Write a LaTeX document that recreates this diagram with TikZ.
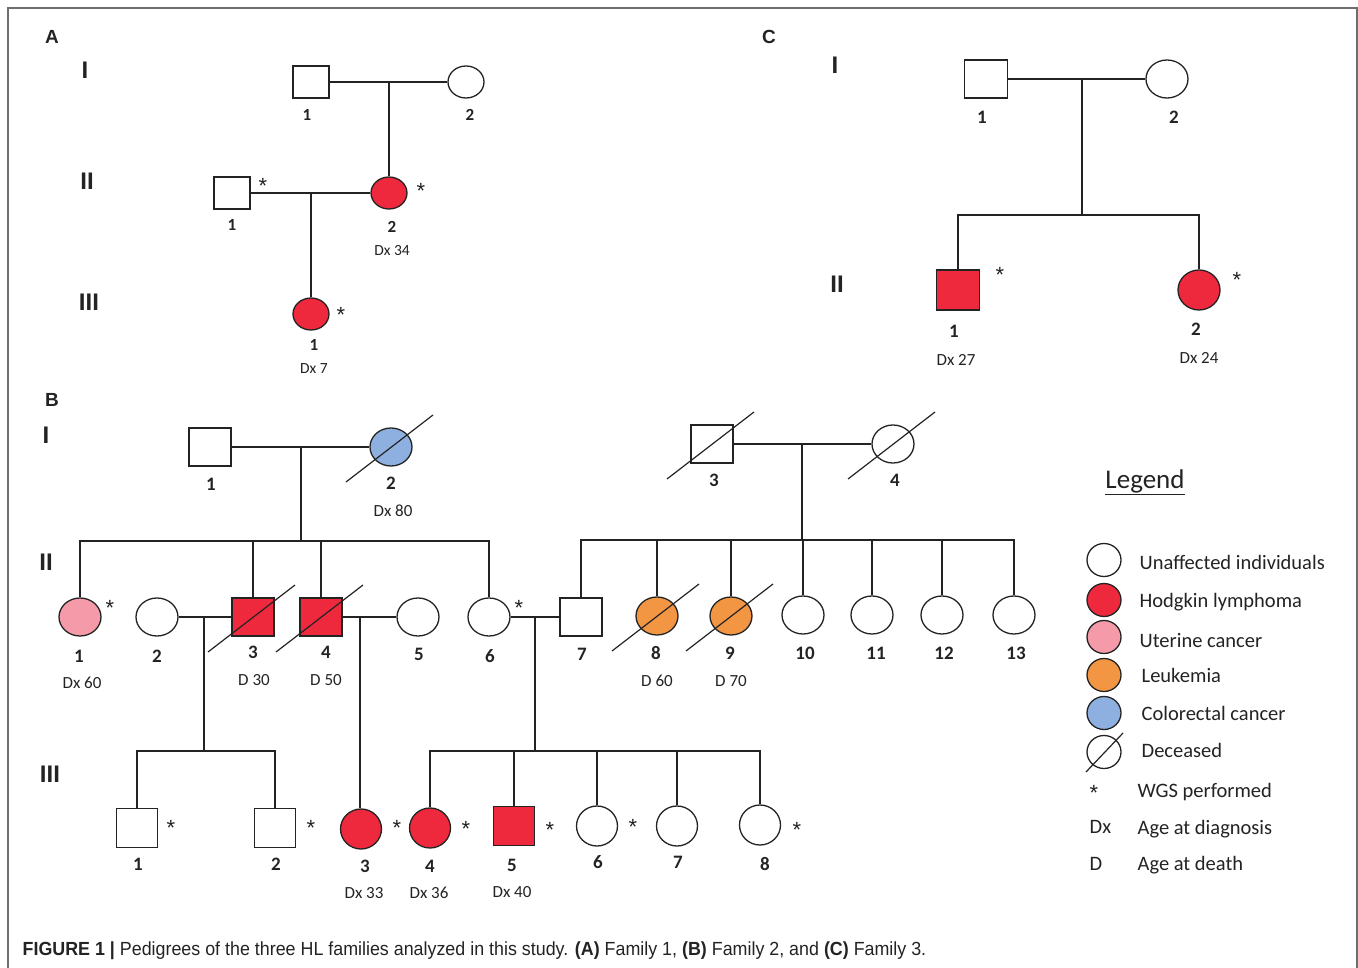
\documentclass[tikz,border=0pt]{standalone}
\usepackage{fontspec}
\setmainfont{Carlito}
\newfontfamily\capfont{Liberation Sans}
\newfontfamily\notefont[FakeStretch=0.94]{Liberation Sans}
\usetikzlibrary{shapes.geometric}

\definecolor{hlred}{RGB}{238,41,62}
\definecolor{uterpink}{RGB}{245,154,168}
\definecolor{leukorange}{RGB}{243,150,68}
\definecolor{crcblue}{RGB}{141,176,224}
\definecolor{framegray}{RGB}{110,110,110}
\definecolor{ink}{RGB}{35,35,35}

\begin{document}
\begin{tikzpicture}[
    x=1pt, y=-1pt,
    line width=1.3pt, color=ink,
    male/.style={draw, rectangle, minimum width=42pt, minimum height=38pt, inner sep=0pt},
    female/.style={draw, ellipse, minimum width=42pt, minimum height=38pt, inner sep=0pt},
    smallA/.style={minimum width=36pt, minimum height=32pt},
    hl/.style={fill=hlred},
    uter/.style={fill=uterpink},
    leuk/.style={fill=leukorange},
    crc/.style={fill=crcblue},
    num/.style={font=\fontsize{19}{21}\selectfont\bfseries},
    numA/.style={font=\fontsize{17}{19}\selectfont\bfseries},
    age/.style={font=\fontsize{17}{19}\selectfont},
    ageA/.style={font=\fontsize{15.5}{17}\selectfont},
    wgs/.style={font=\capfont\fontsize{22}{24}\selectfont},
    gen/.style={font=\capfont\fontsize{24}{26}\selectfont\bfseries},
    panel/.style={font=\capfont\fontsize{19}{21}\selectfont\bfseries},
    slash/.style={line width=1.2pt},
    key/.style={font=\fontsize{20.5}{23}\selectfont, anchor=base west, inner sep=0pt}
]
    \useasboundingbox (0,0) rectangle (1358,968);
    \draw[framegray, line width=1.4pt] (8,990) -- (8,8) -- (1357,8) -- (1357,990);

    % family 1
    \node[panel] (A-lab) at (52,37) {A};
    \node[gen] (A-gI) at (85,70) {I};
    \node[gen] (A-gII) at (87,181) {II};
    \node[gen] (A-gIII) at (89,302) {III};

    \node[male, smallA] (A-I-1) at (311,82) {};
    \node[female, smallA] (A-I-2) at (466,82) {};
    \node[male, smallA] (A-II-1) at (232,193) {};
    \node[female, smallA, hl] (A-II-2) at (389,193) {};
    \node[female, smallA, hl] (A-III-1) at (311,314) {};
    \coordinate (A-m1) at (389,82);
    \coordinate (A-m2) at (311,193);

    \draw (A-I-1) -- (A-I-2);
    \draw (A-m1) -- (A-II-2);
    \draw (A-II-1) -- (A-II-2);
    \draw (A-m2) -- (A-III-1);

    \node[numA] (A-I-1-n) at (307,115) {1};
    \node[numA] (A-I-2-n) at (470,115) {2};
    \node[numA] (A-II-1-n) at (232,225) {1};
    \node[numA] (A-II-2-n) at (392,227) {2};
    \node[ageA] (A-II-2-dx) at (392,251) {Dx 34};
    \node[numA] (A-III-1-n) at (314,345) {1};
    \node[ageA] (A-III-1-dx) at (314,369) {Dx 7};
    \node[wgs] (A-II-1-s) at (263,186) {*};
    \node[wgs] (A-II-2-s) at (421,191) {*};
    \node[wgs] (A-III-1-s) at (341,315) {*};

    % family 3
    \node[panel] (C-lab) at (769,37) {C};
    \node[gen] (C-gI) at (835,65) {I};
    \node[gen] (C-gII) at (837,284) {II};

    \node[male, minimum width=43pt] (C-I-1) at (986,79) {};
    \node[female] (C-I-2) at (1167,79) {};
    \node[male, minimum width=43pt, minimum height=40pt, hl] (C-II-1) at (958,290) {};
    \node[female, minimum height=40pt, hl] (C-II-2) at (1199,290) {};
    \coordinate (C-m1) at (1082,79);
    \coordinate (C-s1) at (1082,215);

    \draw (C-I-1) -- (C-I-2);
    \draw (C-m1) -- (C-s1);
    \draw (C-II-1) |- (C-s1) -| (C-II-2);

    \node[num] (C-I-1-n) at (982,117) {1};
    \node[num] (C-I-2-n) at (1174,117) {2};
    \node[num] (C-II-1-n) at (954,331) {1};
    \node[age] (C-II-1-dx) at (956,360) {Dx 27};
    \node[num] (C-II-2-n) at (1196,329) {2};
    \node[age] (C-II-2-dx) at (1199,358) {Dx 24};
    \node[wgs] (C-II-1-s) at (1000,275) {*};
    \node[wgs] (C-II-2-s) at (1237,280) {*};

    % family 2
    \node[panel] (B-lab) at (52,400) {B};
    \node[gen] (B-gI) at (46,435) {I};
    \node[gen] (B-gII) at (46,562) {II};
    \node[gen] (B-gIII) at (50,774) {III};

    \node[male] (B-I-1) at (210,447) {};
    \node[female, crc] (B-I-2) at (391,447) {};
    \node[male] (B-I-3) at (712,444) {};
    \node[female] (B-I-4) at (893,444) {};

    \node[female, uter] (B-II-1) at (80,617) {};
    \node[female] (B-II-2) at (157,617) {};
    \node[male, hl] (B-II-3) at (253,617) {};
    \node[male, hl] (B-II-4) at (321,617) {};
    \node[female] (B-II-5) at (418,617) {};
    \node[female] (B-II-6) at (489,617) {};
    \node[male] (B-II-7) at (581,617) {};
    \node[female, leuk] (B-II-8) at (657,616) {};
    \node[female, leuk] (B-II-9) at (731,616) {};
    \foreach \k/\x in {10/803, 11/872, 12/942, 13/1014}
        \node[female] (B-II-\k) at (\x,615) {};

    \node[male, minimum width=41pt, minimum height=39pt] (B-III-1) at (137,828) {};
    \node[male, minimum width=41pt, minimum height=39pt] (B-III-2) at (275,828) {};
    \node[female, minimum width=41pt, minimum height=40pt, hl] (B-III-3) at (361,829) {};
    \node[female, minimum width=41pt, minimum height=40pt, hl] (B-III-4) at (430,828) {};
    \node[male, minimum width=41pt, minimum height=39pt, hl] (B-III-5) at (514,826) {};
    \node[female, minimum width=41pt, minimum height=40pt] (B-III-6) at (597,826) {};
    \node[female, minimum width=41pt, minimum height=40pt] (B-III-7) at (677,826) {};
    \node[female, minimum width=41pt, minimum height=40pt] (B-III-8) at (760,825) {};

    \coordinate (B-m1) at (301,447);
    \coordinate (B-s1) at (301,541);
    \coordinate (B-m2) at (802,444);
    \coordinate (B-s2) at (802,540);
    \coordinate (B-m3) at (204,617);
    \coordinate (B-s3) at (204,751);
    \coordinate (B-m4) at (360,617);
    \coordinate (B-m5) at (535,617);
    \coordinate (B-s4) at (535,751);

    \draw (B-I-1) -- (B-I-2);
    \draw (B-I-3) -- (B-I-4);
    \draw (B-II-2) -- (B-II-3);
    \draw (B-II-4) -- (B-II-5);
    \draw (B-II-6) -- (B-II-7);
    \draw (B-m1) -- (B-s1);
    \draw (B-m2) -- (B-s2);
    \draw (B-m3) -- (B-s3);
    \draw (B-m5) -- (B-s4);
    \draw (B-m4) -- (B-m4 |- B-III-3.north);

    \draw (B-II-1) |- (B-s1) -| (B-II-6);
    \foreach \k in {3,4}
        \draw (B-II-\k) -- (B-II-\k |- B-s1);
    \draw (B-II-7) |- (B-s2) -| (B-II-13);
    \foreach \k in {8,...,12}
        \draw (B-II-\k) -- (B-II-\k |- B-s2);
    \draw (B-III-1) |- (B-s3) -| (B-III-2);
    \draw (B-III-4) |- (B-s4) -| (B-III-8);
    \foreach \k in {5,6,7}
        \draw (B-III-\k) -- (B-III-\k |- B-s4);

    \foreach \n in {B-I-2, B-I-3, B-I-4, B-II-3, B-II-4, B-II-8, B-II-9}
        \draw[slash] (\n.center) ++(-45,35) -- ++(87,-67);

    \node[num] (B-I-1-n) at (211,484) {1};
    \node[num] (B-I-2-n) at (391,483) {2};
    \node[age] (B-I-2-dx) at (393,511) {Dx 80};
    \node[num] (B-I-3-n) at (714,480) {3};
    \node[num] (B-I-4-n) at (895,480) {4};

    \node[num] (B-II-1-n) at (79,656) {1};
    \node[age] (B-II-1-dx) at (82,683) {Dx 60};
    \node[num] (B-II-2-n) at (157,656) {2};
    \node[num] (B-II-3-n) at (253,652) {3};
    \node[age] (B-II-3-d) at (254,680) {D 30};
    \node[num] (B-II-4-n) at (326,652) {4};
    \node[age] (B-II-4-d) at (326,680) {D 50};
    \node[num] (B-II-5-n) at (419,654) {5};
    \node[num] (B-II-6-n) at (490,656) {6};
    \node[num] (B-II-7-n) at (582,654) {7};
    \node[num] (B-II-8-n) at (656,653) {8};
    \node[age] (B-II-8-d) at (657,681) {D 60};
    \node[num] (B-II-9-n) at (730,653) {9};
    \node[age] (B-II-9-d) at (731,681) {D 70};
    \foreach \k/\x in {10/805, 11/876, 12/944, 13/1016}
        \node[num] (B-II-\k-n) at (\x,653) {\k};
    \node[wgs] (B-II-1-s) at (110,608) {*};
    \node[wgs] (B-II-6-s) at (519,608) {*};

    \node[num] (B-III-1-n) at (138,864) {1};
    \node[num] (B-III-2-n) at (276,864) {2};
    \node[num] (B-III-3-n) at (365,866) {3};
    \node[age] (B-III-3-dx) at (364,893) {Dx 33};
    \node[num] (B-III-4-n) at (430,866) {4};
    \node[age] (B-III-4-dx) at (429,893) {Dx 36};
    \node[num] (B-III-5-n) at (512,865) {5};
    \node[age] (B-III-5-dx) at (512,892) {Dx 40};
    \node[num] (B-III-6-n) at (598,862) {6};
    \node[num] (B-III-7-n) at (678,862) {7};
    \node[num] (B-III-8-n) at (765,864) {8};
    \foreach \k/\x/\y in {1/171/828, 2/311/828, 3/397/828, 4/466/829, 5/550/830, 6/633/827, 8/797/830}
        \node[wgs] (B-III-\k-s) at (\x,\y) {*};

    % legend
    \node[font=\fontsize{27}{30}\selectfont] (leg-title) at (1145,482) {\underline{Legend}};
    \foreach \i/\y/\f in {1/560/white, 2/600/hlred, 3/637/uterpink, 4/675/leukorange, 5/713/crcblue, 6/752/white}
        \node[draw, ellipse, minimum width=34pt, minimum height=33pt, inner sep=0pt, fill=\f] (leg-\i) at (1104,\y) {};
    \draw[slash] (leg-6.center) ++(-18,20) -- ++(37,-39);
    \foreach \i/\x/\y/\t in {1/1139/569/Unaffected individuals, 2/1139/607/Hodgkin lymphoma,
        3/1139/647/Uterine cancer, 4/1141/682/Leukemia, 5/1141/720/Colorectal cancer,
        6/1141/757/Deceased, 7/1137/797/WGS performed, 8/1137/834/Age at diagnosis,
        9/1137/870/Age at death}
        \node[key] (leg-\i-t) at (\x,\y) {\t};
    \node[wgs] (leg-star) at (1094,793) {*};
    \node[key] (leg-dx) at (1089,833) {Dx};
    \node[key] (leg-d) at (1089,870) {D};

    % caption
    \node[anchor=base west, inner sep=0pt, font=\notefont\fontsize{19}{21}\selectfont] (caption) at (22,955)
        {\textbf{FIGURE 1 |} Pedigrees of the three HL families analyzed in this study. \textbf{(A)} Family 1, \textbf{(B)} Family 2, and \textbf{(C)} Family 3.};
\end{tikzpicture}
\end{document}
